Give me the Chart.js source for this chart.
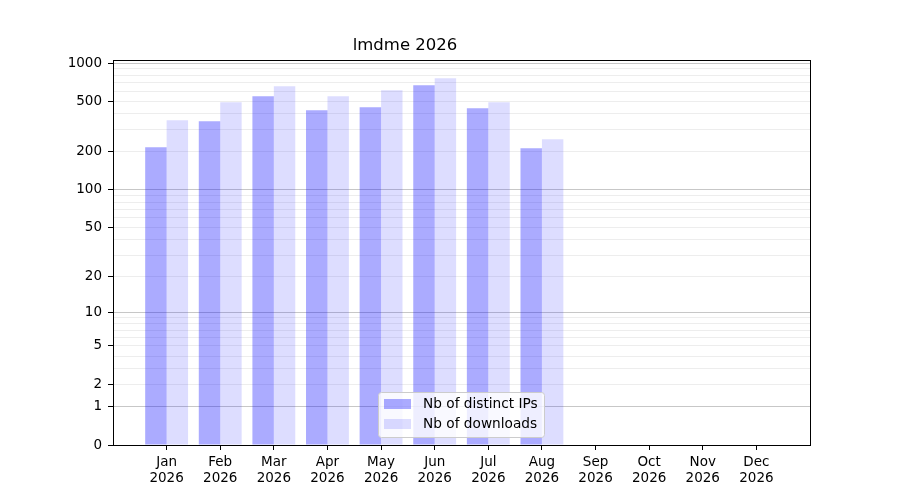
<!DOCTYPE html>
<html>
<head>
<meta charset="utf-8">
<script src="https://cdn.jsdelivr.net/npm/chart.js@4"></script>
<style>
  html, body { margin: 0; padding: 0; background: #fff; }
</style>
</head>
<body>
<canvas id="grafico" width="900" height="500"></canvas>
<script>
// Dados (escala log10(1 + x))
const meses = ['Jan', 'Feb', 'Mar', 'Apr', 'May', 'Jun', 'Jul', 'Aug', 'Sep', 'Oct', 'Nov', 'Dec'];
const ano = '2026';
const ipsDistintos = [217, 348, 548, 426, 449, 669, 441, 213];
const downloads = [355, 492, 657, 548, 611, 760, 492, 251];
const ticksRotulados = [0, 1, 2, 5, 10, 20, 50, 100, 200, 500, 1000];
const ticksMenores = [3, 4, 6, 7, 8, 9, 30, 40, 60, 70, 80, 90, 300, 400, 600, 700, 800, 900];
const ticksPrincipais = [1, 10, 100, 1000];

const corIps = 'rgba(0, 0, 255, 0.33)';
const corDownloads = 'rgba(0, 0, 255, 0.135)';
const fonte = 'DejaVu Sans';

const paraEscala = v => Math.log10(1 + v);
const deEscala = v => Math.round(Math.pow(10, v) - 1);

// Moldura completa (como no matplotlib) e legenda dentro da área
const pluginMoldura = {
    id: 'moldura',
    afterDatasetsDraw(chart) {
        const { ctx, chartArea: a } = chart;
        ctx.save();
        // legenda
        const lx = a.left + 265, ly = a.bottom - 53, lw = 166, lh = 45;
        ctx.fillStyle = 'rgba(255, 255, 255, 0.8)';
        ctx.strokeStyle = '#cccccc';
        ctx.lineWidth = 1;
        ctx.beginPath();
        ctx.roundRect(lx + 0.5, ly + 0.5, lw, lh, 3);
        ctx.fill();
        ctx.stroke();
        const itens = [['Nb of distinct IPs', corIps], ['Nb of downloads', corDownloads]];
        ctx.font = '13.7px "' + fonte + '"';
        ctx.textBaseline = 'middle';
        itens.forEach(([texto, cor], i) => {
            const y = ly + 12 + i * 20;
            ctx.fillStyle = cor;
            ctx.fillRect(lx + 6, y - 5, 27, 10);
            ctx.fillStyle = '#000';
            ctx.fillText(texto, lx + 45, y);
        });
        // moldura
        ctx.strokeStyle = '#000';
        ctx.lineWidth = 1;
        ctx.strokeRect(Math.round(a.left) + 0.5, Math.round(a.top) + 0.5,
            Math.round(a.right - a.left), Math.round(a.bottom - a.top));
        ctx.restore();
    }
};

const ctxGrafico = document.getElementById('grafico').getContext('2d');
new Chart(ctxGrafico, {
    type: 'bar',
    data: {
        datasets: [{
            label: 'Nb of distinct IPs',
            data: ipsDistintos.map((v, i) => ({ x: i, y: paraEscala(v) })),
            backgroundColor: corIps,
            borderWidth: 0
        }, {
            label: 'Nb of downloads',
            data: downloads.map((v, i) => ({ x: i, y: paraEscala(v) })),
            backgroundColor: corDownloads,
            borderWidth: 0
        }]
    },
    options: {
        responsive: false,
        animation: false,
        categoryPercentage: 0.8,
        barPercentage: 1.0,
        layout: { padding: { left: 0, right: 90, top: 0, bottom: 0 } },
        scales: {
            x: {
                type: 'linear',
                min: -1,
                max: 12,
                offset: false,
                afterBuildTicks: (escala) => {
                    escala.ticks = meses.map((m, i) => ({ value: i }));
                },
                afterFit: (escala) => { escala.height = 55; },
                grid: {
                    offset: false,
                    drawOnChartArea: false,
                    tickLength: 5,
                    tickColor: '#000'
                },
                border: { color: '#000', width: 1 },
                ticks: {
                    autoSkip: false,
                    maxRotation: 0,
                    padding: 5,
                    color: '#000',
                    font: { family: fonte, size: 13.5, lineHeight: 1.15 },
                    callback: (valor) => [meses[valor], ano]
                }
            },
            y: {
                type: 'linear',
                min: 0,
                max: 3.022,
                afterBuildTicks: (escala) => {
                    const todos = ticksRotulados.concat(ticksMenores).sort((a, b) => a - b);
                    escala.ticks = todos.map(v => ({ value: paraEscala(v) }));
                },
                afterFit: (escala) => { escala.width = 113; },
                grid: {
                    tickLength: 5,
                    color: (c) => {
                        const v = deEscala(c.tick.value);
                        if (v === 0) return 'rgba(0,0,0,0)';
                        return ticksPrincipais.includes(v) ? 'rgba(0,0,0,0.22)' : 'rgba(0,0,0,0.07)';
                    },
                    tickColor: (c) => ticksRotulados.includes(deEscala(c.tick.value)) ? '#000' : 'rgba(0,0,0,0)'
                },
                border: { color: '#000', width: 1 },
                ticks: {
                    autoSkip: false,
                    padding: 6,
                    color: '#000',
                    font: { family: fonte, size: 13.5 },
                    callback: (valor) => {
                        const v = deEscala(valor);
                        return ticksRotulados.includes(v) ? String(v) : '';
                    }
                }
            }
        },
        plugins: {
            legend: { display: false },
            tooltip: { enabled: false },
            title: {
                display: true,
                text: 'lmdme 2026',
                color: '#000',
                font: { family: fonte, size: 16.5, weight: 'normal' },
                padding: { top: 36, bottom: 4.5 }
            }
        }
    },
    plugins: [pluginMoldura]
});
</script>
</body>
</html>
